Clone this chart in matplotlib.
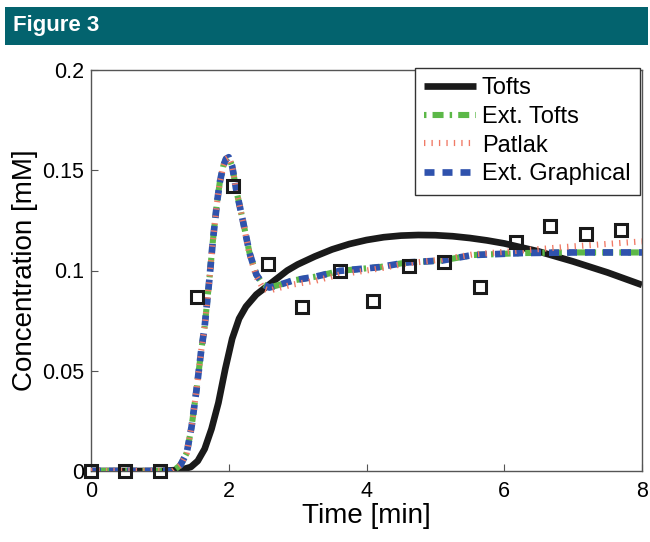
import matplotlib
matplotlib.use("Agg")
import matplotlib.pyplot as plt
from matplotlib.patches import Rectangle

# measured data (squares)
meas_t = [0, 0.5, 1.0, 1.54, 2.06, 2.57, 3.07, 3.61, 4.10, 4.61, 5.13, 5.65, 6.17, 6.67, 7.19, 7.70]
meas_c = [0, 0, 0, 0.0868, 0.142, 0.103, 0.082, 0.0998, 0.0848, 0.102, 0.104, 0.092, 0.114, 0.122, 0.118, 0.120]

# Tofts fit
tofts_t = [0, 1.0, 1.25, 1.35, 1.45, 1.55, 1.65, 1.75, 1.85, 1.95, 2.05, 2.15, 2.25, 2.4, 2.55,
           2.7, 2.85, 3.0, 3.25, 3.5, 3.75, 4.0, 4.25, 4.5, 4.75, 5.0, 5.25, 5.5, 5.75, 6.0,
           6.5, 7.0, 7.5, 8.0]
tofts_c = [0, 0, 0.0005, 0.001, 0.002, 0.005, 0.011, 0.021, 0.034, 0.051, 0.066, 0.076, 0.082, 0.088, 0.092,
           0.096, 0.100, 0.103, 0.107, 0.1105, 0.1132, 0.1152, 0.1166, 0.1174, 0.1177, 0.1176, 0.1171, 0.1162,
           0.115, 0.1135, 0.1095, 0.1045, 0.099, 0.0928]

# the three "extended" models share the same time samples
ext_t = [0, 0.5, 1.0, 1.19, 1.3, 1.39, 1.46, 1.53, 1.6, 1.65, 1.72, 1.77, 1.83, 1.87, 1.92,
         1.96, 2.0, 2.05, 2.11, 2.21, 2.30, 2.40, 2.50, 2.59, 2.75, 2.93, 3.27, 3.61, 4.19, 4.58,
         5.10, 5.54, 6.26, 6.99, 8.0]
ext_tofts_c = [0, 0, 0, 0, 0.003, 0.009, 0.022, 0.040, 0.060, 0.072, 0.096, 0.115, 0.134, 0.144, 0.152,
               0.1557, 0.1565, 0.152, 0.140, 0.124, 0.109, 0.098, 0.093, 0.0915, 0.093, 0.095, 0.097, 0.0998,
               0.1017, 0.104, 0.105, 0.1077, 0.1087, 0.109, 0.109]
patlak_c = [0, 0, 0, 0, 0.003, 0.009, 0.022, 0.040, 0.060, 0.072, 0.096, 0.115, 0.134, 0.144, 0.152,
            0.1557, 0.1565, 0.152, 0.140, 0.124, 0.108, 0.097, 0.091, 0.090, 0.0915, 0.093, 0.095, 0.098,
            0.101, 0.1035, 0.1055, 0.108, 0.110, 0.112, 0.1145]
ext_graph_c = [0, 0, 0, 0, 0.003, 0.009, 0.022, 0.040, 0.060, 0.072, 0.096, 0.115, 0.134, 0.144, 0.152,
               0.1557, 0.1565, 0.152, 0.140, 0.124, 0.109, 0.098, 0.093, 0.0915, 0.093, 0.095, 0.097, 0.0998,
               0.1017, 0.104, 0.105, 0.1077, 0.1087, 0.109, 0.109]

x_ticks = [0, 2, 4, 6, 8]
y_ticks = [0, 0.05, 0.1, 0.15, 0.2]
y_tick_labels = ["0", "0.05", "0.1", "0.15", "0.2"]

plt.rcParams['font.family'] = ['Liberation Sans', 'DejaVu Sans']

fig = plt.figure(figsize=(6.5, 5.42), dpi=100)

# teal banner with title
fig.patches.append(Rectangle((5 / 650, 1 - 45 / 542), 643 / 650, 38 / 542,
                             transform=fig.transFigure, facecolor='#03636e',
                             edgecolor='none', zorder=0))
fig.text(13 / 650, 1 - 26 / 542, "Figure 3", color='white', fontsize=16, fontweight='bold',
         va='center', ha='left')

ax = fig.add_axes([91 / 650, 1 - 471 / 542, 551 / 650, 401 / 542])

ax.plot(tofts_t, tofts_c, color='#1a1a1a', lw=4.8, label='Tofts', zorder=2,
        solid_capstyle='butt')
ax.plot(ext_t, ext_tofts_c, color='#5cb848', lw=4.4, linestyle=(0, (0.4, 1.0, 1.8, 1.0)),
        dash_capstyle='butt', label='Ext. Tofts', zorder=3)
ax.plot(ext_t, patlak_c, color='#f07a66', lw=4.4, linestyle=(0, (0.22, 1.0)),
        dash_capstyle='butt', label='Patlak', zorder=5)
ax.plot(ext_t, ext_graph_c, color='#2f52ad', lw=4.8, linestyle=(0, (1.5, 1.2)),
        dash_capstyle='butt', label='Ext. Graphical', zorder=4)
ax.plot(meas_t, meas_c, linestyle='none', marker='s', markersize=9, markerfacecolor='none',
        markeredgecolor='#1a1a1a', markeredgewidth=2.2, zorder=6, clip_on=False)

ax.set_xlim(0, 8)
ax.set_ylim(0, 0.2)
ax.set_xticks(x_ticks)
ax.set_yticks(y_ticks)
ax.set_yticklabels(y_tick_labels)
ax.tick_params(direction='in', labelsize=15.5, length=5, color='#555555')
ax.tick_params(axis='x', pad=7)
ax.tick_params(axis='y', pad=5)
for s in ax.spines.values():
    s.set_color('#555555')
    s.set_linewidth(1.0)

ax.set_xlabel('Time [min]', fontsize=20, labelpad=1)
ax.set_ylabel('Concentration [mM]', fontsize=20, labelpad=3)

leg = ax.legend(loc='upper right', bbox_to_anchor=(0.9964, 1.005), fontsize=17,
                frameon=True, fancybox=False, borderpad=0.4, labelspacing=0.28,
                handlelength=2.2, handletextpad=0.25, borderaxespad=0.0)
leg.get_frame().set_edgecolor('#333333')
leg.get_frame().set_linewidth(1.0)
leg.get_frame().set_alpha(1.0)
leg.set_zorder(10)

fig.savefig('out.png', dpi=100)
